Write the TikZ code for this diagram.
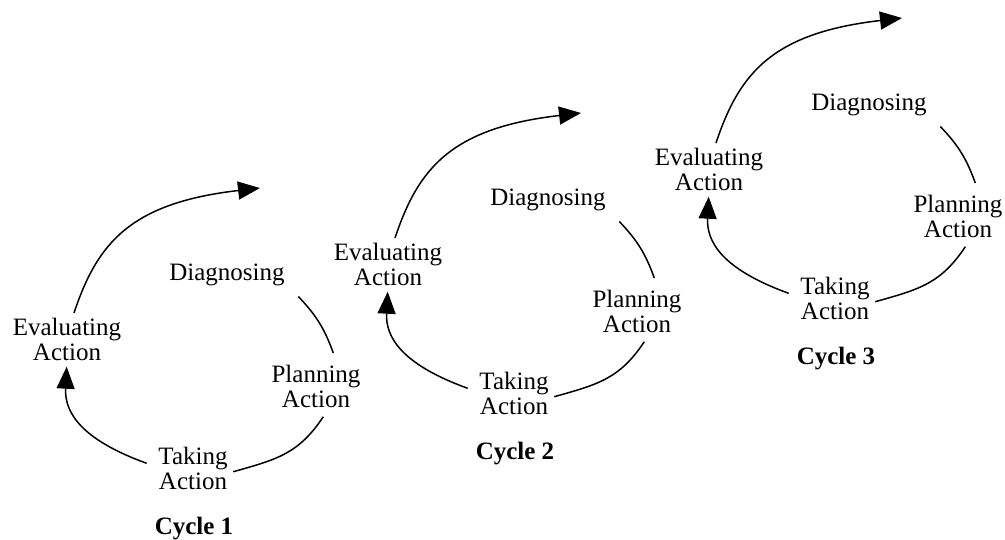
\documentclass[tikz,border=0pt]{standalone}
\usepackage{fontspec}
\setmainfont{Liberation Serif}
\usetikzlibrary{arrows.meta}
\tikzset{
  lbl/.style={font=\fontsize{25}{25}\selectfont, inner sep=0pt, align=center},
  ttl/.style={font=\fontsize{25}{25}\selectfont\bfseries, inner sep=0pt},
  arcline/.style={line width=1.5pt, draw=black},
  tipped/.style={-{Triangle[length=22pt,width=18pt]}},
}
\newcommand\drawcycle[4]{%
  \begin{scope}[shift={(#2,#3)}]
    \node[lbl, anchor=base] (#1d) at (0,8) {Diagnosing};
    \node[lbl] (#1e) at (-160,67) {Evaluating\\Action};
    \node[lbl] (#1p) at (89,113.5) {Planning\\Action};
    \node[lbl] (#1t) at (-34,196) {Taking\\Action};
    \node[ttl, anchor=base] (#1c) at (-33,262) {Cycle #4};
    % free ends of the connectors
    \coordinate (#1eTop) at (-153,40.5);
    \coordinate (#1out) at (33,-84.5);
    \coordinate (#1dOut) at (71.3,24);
    \coordinate (#1pIn) at (106.3,80.5);
    \coordinate (#1pOut) at (96.3,144.2);
    \coordinate (#1tIn) at (6.3,199.2);
    \coordinate (#1tOut) at (-80.3,190.8);
    \coordinate (#1eIn) at (-160.3,94.2);
    % connectors
    \draw[arcline,tipped] (#1eTop) .. controls (-129.8,-29.2) and (-96.9,-69.5) .. (#1out);
    \draw[arcline] (#1dOut) .. controls (89.3,42.8) and (97.5,56.1) .. (#1pIn);
    \draw[arcline] (#1pOut) .. controls (71.55,181.55) and (49.5,187.05) .. (#1tIn);
    \draw[arcline,tipped] (#1tOut) .. controls (-146.6,166.8) and (-162.6,139.5) .. (#1eIn);
  \end{scope}}
\begin{document}
\begin{tikzpicture}[x=1pt,y=-1pt]
  \useasboundingbox (0,0) rectangle (1005,539);
  \drawcycle{a}{227}{272.5}{1}
  \drawcycle{b}{548}{197.5}{2}
  \drawcycle{c}{869}{102.5}{3}
\end{tikzpicture}
\end{document}
